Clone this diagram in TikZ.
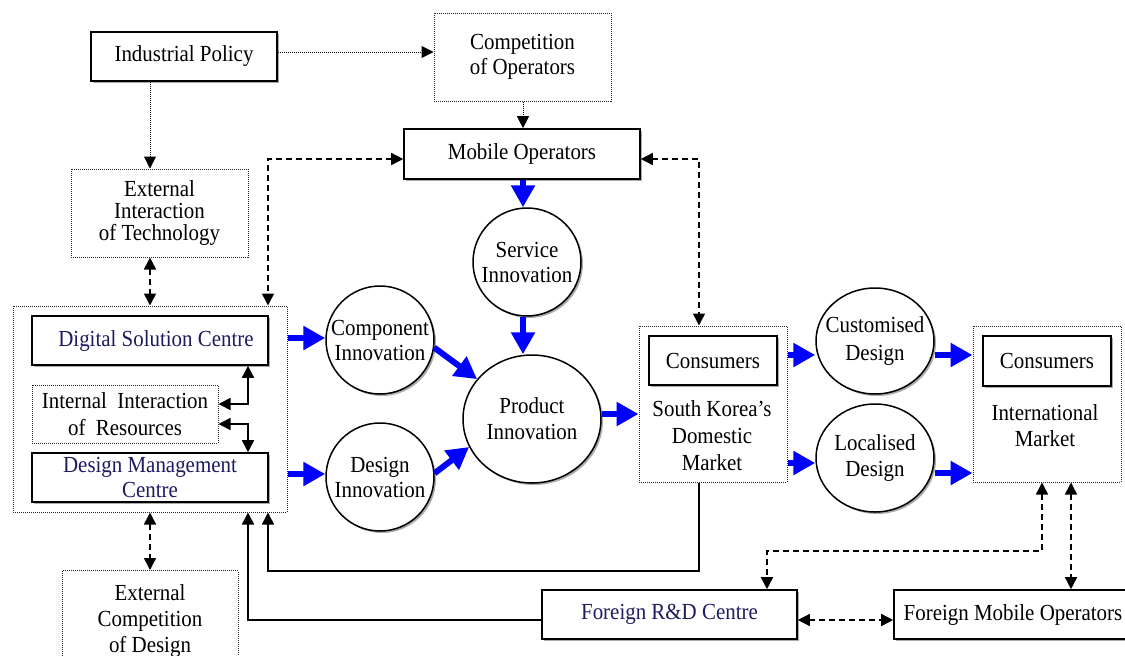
\documentclass[tikz,border=0pt]{standalone}
\usepackage{fontspec}
\setmainfont[FakeStretch=0.91]{Liberation Serif}
\usetikzlibrary{arrows.meta,shadows,shapes.geometric}
\definecolor{navytext}{RGB}{28,28,96}
\definecolor{flowblue}{RGB}{0,0,255}

\begin{document}
\begin{tikzpicture}[x=1pt,y=-1pt,
  every node/.style={font=\fontsize{23}{25}\selectfont, align=center, inner sep=0pt},
  shade/.style={drop shadow={shadow xshift=2pt, shadow yshift=-2pt, fill=black!55, opacity=0.6}},
  solidbox/.style={draw=black, line width=1.6pt, fill=white, shade},
  dotbox/.style={draw=black!85, line width=1pt, dash pattern=on 1pt off 1pt},
  roundnode/.style={circle, draw=black, line width=1.5pt, fill=white, shade, minimum size=108pt, inner sep=-3pt},
  ovalnode/.style={ellipse, draw=black, line width=1.5pt, fill=white, shade},
  dotarrow/.style={line width=1pt, dash pattern=on 1pt off 1pt, -{Triangle[length=12pt,width=12pt]}},
  dasharrow/.style={line width=1.5pt, dash pattern=on 6pt off 4pt, {Triangle[length=12pt,width=12pt]}-{Triangle[length=12pt,width=12pt]}},
  linkarrow/.style={line width=1.6pt, -{Triangle[length=12pt,width=12pt]}},
  linkboth/.style={line width=1.6pt, {Triangle[length=12pt,width=12pt]}-{Triangle[length=12pt,width=12pt]}},
  bluearrow/.style={draw=flowblue, line width=6pt, -{Triangle[length=22pt,width=23pt]}},
]
\useasboundingbox (0,0) rectangle (1125,656);

% ---- policy and operators ----
\node[solidbox, minimum width=186pt, minimum height=49pt] (policy) at (184,56.5) {Industrial Policy};
\node[dotbox, minimum width=177pt, minimum height=88pt] (competition) at (522.5,57) {Competition\\of Operators};
\node[solidbox, minimum width=236pt, minimum height=50pt] (mobile) at (522,154) {Mobile Operators};
\node[dotbox, minimum width=177pt, minimum height=88pt, font=\fontsize{23}{22}\selectfont] (exttech) at (159.5,213) {\rule{0pt}{6pt}External\\Interaction\\of Technology};

% ---- firm: design organisation ----
\node[dotbox, minimum width=274pt, minimum height=206pt] (org) at (150,409) {};
\node[solidbox, minimum width=236pt, minimum height=49pt, text=navytext] (digital) at (150,340.5) {\hspace*{12pt}Digital Solution Centre};
\node[dotbox, minimum width=186pt, minimum height=58pt, font=\fontsize{23}{27}\selectfont] (internal) at (125,414) {Internal\ \ Interaction\\of\ \ Resources};
\node[solidbox, minimum width=236pt, minimum height=49pt, text=navytext] (dmc) at (150,477.5) {Design Management\\Centre};
\node[dotbox, minimum width=176pt, minimum height=100pt, font=\fontsize{23}{26}\selectfont, anchor=north] (extdesign) at (150,570) {External\\Competition\\of Design};

% ---- innovation ----
\node[roundnode] (component) at (380,340) {Component\\Innovation};
\node[roundnode] (design) at (380,477) {Design\\Innovation};
\node[roundnode] (service) at (527,262) {Service\\Innovation};
\node[ovalnode, minimum width=138pt, minimum height=128pt, font=\fontsize{23}{26}\selectfont] (product) at (532,419) {Product\\Innovation};

% ---- markets ----
\node[dotbox, minimum width=148pt, minimum height=156pt] (domestic) at (713,404) {};
\node[solidbox, minimum width=128pt, minimum height=49pt] (cons1) at (713,360.5) {Consumers};
\node[font=\fontsize{23}{27}\selectfont] (domtext) at (712,436) {South Korea's\\Domestic\\Market};

\node[ovalnode, minimum width=118pt, minimum height=106pt, inner xsep=-9pt, inner ysep=-4pt, font=\fontsize{23}{28}\selectfont] (custom) at (875,341) {Customised\\Design};
\node[ovalnode, minimum width=118pt, minimum height=108pt, inner xsep=-2pt, inner ysep=-4pt, font=\fontsize{23}{26}\selectfont] (local) at (875,458) {Localised\\Design};

\node[dotbox, minimum width=148pt, minimum height=156pt] (intl) at (1047,404) {};
\node[solidbox, minimum width=128pt, minimum height=50pt] (cons2) at (1047,361) {Consumers};
\node[font=\fontsize{23}{26}\selectfont] (intltext) at (1045,426) {International\\Market};

% ---- foreign actors ----
\node[solidbox, minimum width=255pt, minimum height=49pt, text=navytext] (frd) at (669.5,614.5) {Foreign R\&D Centre};
\node[solidbox, minimum width=238pt, minimum height=49pt] (fmo) at (1013,614.5) {Foreign Mobile Operators};

% ---- helper rows and columns ----
\coordinate (r52) at (0,52);
\coordinate (r159) at (0,159);
\coordinate (r338) at (0,338);
\coordinate (r355) at (0,355);
\coordinate (r404) at (0,404);
\coordinate (r414) at (0,414);
\coordinate (r424) at (0,424);
\coordinate (r463) at (0,463);
\coordinate (r473) at (0,473);
\coordinate (r474) at (0,474);
\coordinate (r551) at (0,551);
\coordinate (r571) at (0,571);
\coordinate (r620) at (0,620);
\coordinate (c150) at (150,0);
\coordinate (c248) at (248,0);
\coordinate (c268) at (268,0);
\coordinate (c523) at (523,0);
\coordinate (c699) at (699,0);
\coordinate (c767) at (767,0);
\coordinate (c1042) at (1042,0);
\coordinate (c1071) at (1071,0);

% ---- policy influences ----
\draw[dotarrow] (policy.east |- r52) -- (competition.west |- r52);
\draw[dotarrow] (policy.south -| c150) -- (exttech.north -| c150);
\draw[dotarrow] (competition.south -| c523) -- (mobile.north -| c523);

% ---- interactions ----
\draw[dasharrow] (exttech.south -| c150) -- (org.north -| c150);
\draw[dasharrow] (mobile.west |- r159) -| (org.north -| c268);
\draw[dasharrow] (mobile.east |- r159) -| (domestic.north -| c699);
\draw[dasharrow] (org.south -| c150) -- (extdesign.north -| c150);
\draw[dasharrow] (intl.south -| c1042) -- (r551 -| c1042) -| (frd.north -| c767);
\draw[dasharrow] (intl.south -| c1071) -- (fmo.north -| c1071);
\draw[dasharrow] (frd.east |- r620) -- (fmo.west |- r620);

% ---- internal links ----
\draw[linkboth] (digital.south -| c248) |- (internal.east |- r404);
\draw[linkboth] (internal.east |- r424) -| (dmc.north -| c248);

% ---- feedback ----
\draw[linkarrow] (domestic.south -| c699) |- (r571 -| c268) -- (org.south -| c268);
\draw[linkarrow] (frd.west |- r620) -| (org.south -| c248);

% ---- innovation flow ----
\draw[bluearrow] (mobile.south -| c523) -- (service.north -| c523);
\draw[bluearrow] (service.south -| c523) -- (product.north -| c523);
\draw[bluearrow] (org.east |- r338) -- (component.west |- r338);
\draw[bluearrow] (org.east |- r474) -- (design.west |- r474);
\draw[bluearrow] (component.-8) -- (product.144);
\draw[bluearrow] (design.4) -- (product.204);
\draw[bluearrow] (product.east |- r414) -- (domestic.west |- r414);
\draw[bluearrow] (domestic.east |- r355) -- (custom.west |- r355);
\draw[bluearrow] (domestic.east |- r463) -- (local.west |- r463);
\draw[bluearrow] (custom.east |- r355) -- (intl.west |- r355);
\draw[bluearrow] (local.east |- r473) -- (intl.west |- r473);
\end{tikzpicture}
\end{document}
